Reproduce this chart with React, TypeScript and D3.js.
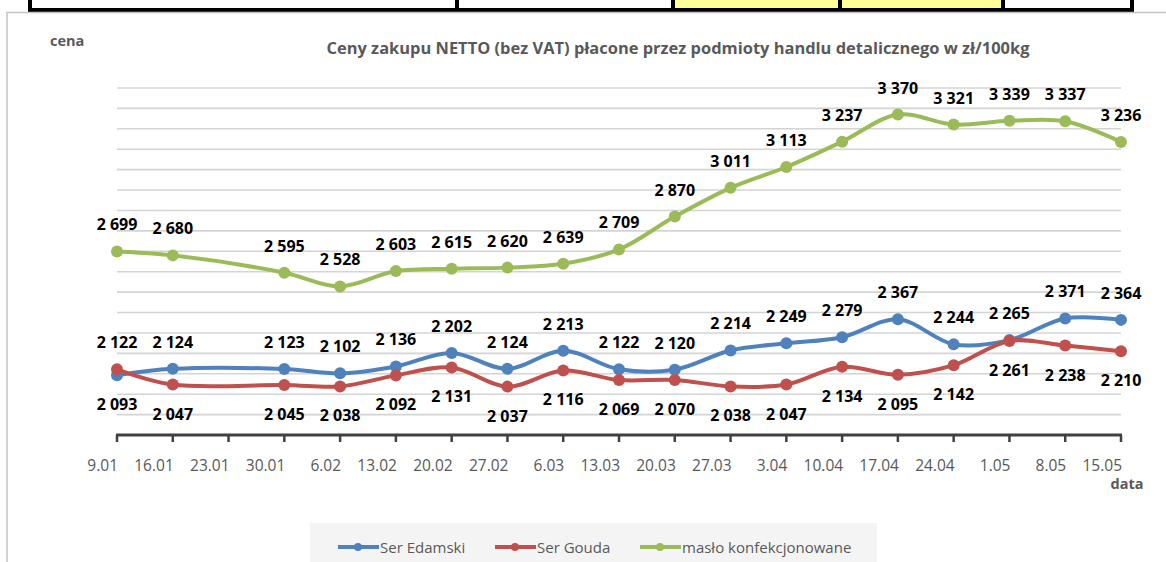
import React from "react";
import * as d3 from "d3";

const dates = ["9.01","16.01","23.01","30.01","6.02","13.02","20.02","27.02","6.03","13.03","20.03","27.03","3.04","10.04","17.04","24.04","1.05","8.05","15.05"];
const serEdamski: (number | null)[] = [2093, 2124, null, 2123, 2102, 2136, 2202, 2124, 2213, 2122, 2120, 2214, 2249, 2279, 2367, 2244, 2265, 2371, 2364];
const serGouda: (number | null)[] = [2122, 2047, null, 2045, 2038, 2092, 2131, 2037, 2116, 2069, 2070, 2038, 2047, 2134, 2095, 2142, 2261, 2238, 2210];
const maslo: (number | null)[] = [2699, 2680, null, 2595, 2528, 2603, 2615, 2620, 2639, 2709, 2870, 3011, 3113, 3237, 3370, 3321, 3339, 3337, 3236];
const seriesNames = ["Ser Edamski", "Ser Gouda", "masło konfekcjonowane"];
const yTicks = d3.range(1900, 3501, 100);

const W = 1166, H = 562;
const FONT = "'Open Sans', 'Noto Sans', sans-serif";
const colors = ["#4F81BD", "#C0504D", "#9BBB59"];

const fmt = (v: number) => {
  const s = String(v);
  return s.length > 3 ? s.slice(0, s.length - 3) + " " + s.slice(-3) : s;
};

export default function App() {
  const x = d3.scalePoint<string>().domain(dates).range([117, 1121]);
  const y = d3.scaleLinear().domain([1800, 3500]).range([435, 88]);
  const all = [serEdamski, serGouda, maslo];

  const pts = all.map((s) =>
    s.map((v, i) => ({ d: dates[i], v, i })).filter((p) => p.v !== null) as { d: string; v: number; i: number }[]
  );
  const line = d3
    .line<{ d: string; v: number }>()
    .x((p) => x(p.d)!)
    .y((p) => y(p.v))
    .curve(d3.curveCatmullRom.alpha(0.5));

  // label placement: cheese series -> higher value above, lower below; butter above
  const labels: { x: number; y: number; t: string }[] = [];
  pts.forEach((arr, si) => {
    arr.forEach((p) => {
      let above = true;
      if (si < 2) {
        const other = all[1 - si][p.i] as number;
        above = p.v > other;
      }
      labels.push({ x: x(p.d)!, y: y(p.v) + (above ? -27 : 29), t: fmt(p.v) });
    });
  });

  const legendItems = [
    { x: 338, name: seriesNames[0], c: colors[0] },
    { x: 495, name: seriesNames[1], c: colors[1] },
    { x: 640, name: seriesNames[2], c: colors[2] },
  ];

  return (
    <svg width={W} height={H} style={{ position: "fixed", left: 0, top: 0, background: "#fff" }} fontFamily={FONT}>
      {/* fragment of table above */}
      <rect x={675} y={0} width={164} height={9} fill="#ffff99" />
      <rect x={842} y={0} width={160} height={9} fill="#ffff99" />
      <rect x={28} y={8} width={1106} height={4} fill="#000" />
      {[30, 457, 673, 840, 1003, 1132].map((vx) => (
        <rect key={vx} x={vx - 2} y={0} width={4} height={10} fill="#000" />
      ))}
      {/* chart frame */}
      <rect x={7} y={12.5} width={1180} height={570} fill="#fff" stroke="#c4c4c4" strokeWidth={1.5} />

      {/* title */}
      <text x={678} y={54} textAnchor="middle" fontSize={16} fontWeight="bold" fill="#595959" textLength={703} lengthAdjust="spacingAndGlyphs">
        Ceny zakupu NETTO (bez VAT) płacone przez podmioty handlu detalicznego w zł/100kg
      </text>
      <text x={50} y={46} fontSize={14.5} fontWeight="bold" fill="#595959">cena</text>

      {/* gridlines */}
      {yTicks.map((t) => (
        <line key={t} x1={117} x2={1121} y1={y(t)} y2={y(t)} stroke="#d4d4d4" strokeWidth={1.6} />
      ))}
      {/* x axis */}
      <line x1={116} x2={1122} y1={y(1800)} y2={y(1800)} stroke="#404040" strokeWidth={3} />
      {dates.map((d) => (
        <g key={d}>
          <line x1={x(d)} x2={x(d)} y1={y(1800)} y2={y(1800) + 7} stroke="#404040" strokeWidth={2.5} />
          <text x={x(d)! + 1} y={471} textAnchor="end" fontSize={15.5} fill="#595959">{d}</text>
        </g>
      ))}
      <text x={1127} y={489} textAnchor="middle" fontSize={14.5} fontWeight="bold" fill="#595959">data</text>

      {/* series */}
      {pts.map((arr, si) => (
        <g key={si}>
          <path d={line(arr) || ""} fill="none" stroke={colors[si]} strokeWidth={4} strokeLinejoin="round" />
          {arr.map((p) => (
            <circle key={p.d} cx={x(p.d)} cy={y(p.v)} r={6} fill={colors[si]} />
          ))}
        </g>
      ))}

      {/* labels */}
      {labels.map((l, k) => (
        <text key={k} x={l.x} y={l.y} textAnchor="middle" dominantBaseline="central" fontSize={16} fontWeight="bold" fill="#000">
          {l.t}
        </text>
      ))}

      {/* legend */}
      <rect x={310} y={523} width={567} height={50} fill="#f4f4f4" />
      {legendItems.map((it) => (
        <g key={it.name}>
          <line x1={it.x} x2={it.x + 41} y1={547} y2={547} stroke={it.c} strokeWidth={4} />
          <circle cx={it.x + 20} cy={547} r={4} fill={it.c} />
          <text x={it.x + 42} y={547} dominantBaseline="central" fontSize={15} fill="#595959">{it.name}</text>
        </g>
      ))}
    </svg>
  );
}
